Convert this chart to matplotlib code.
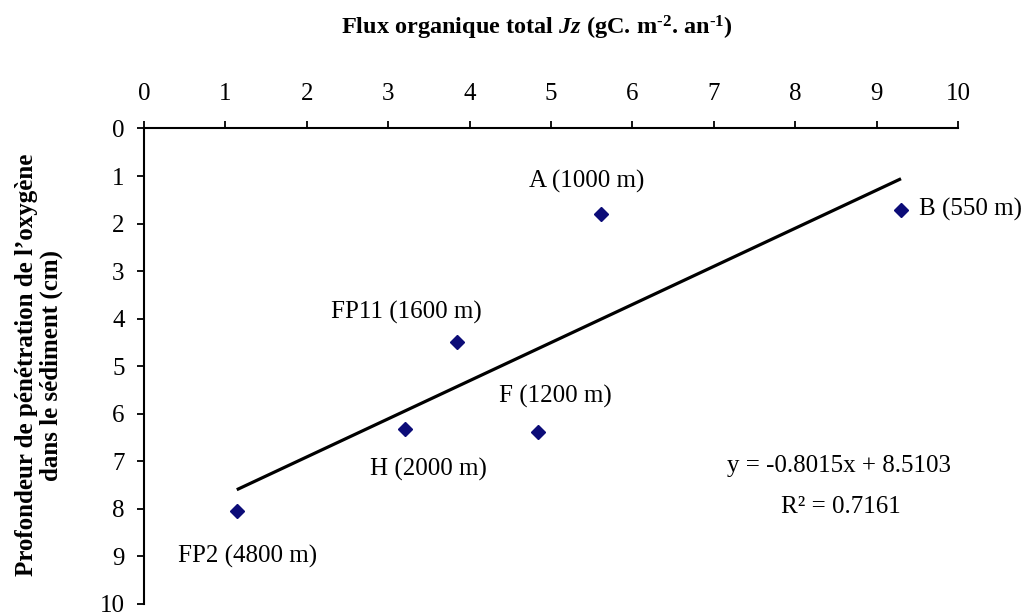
import numpy as np
import matplotlib
matplotlib.use("Agg")
import matplotlib.pyplot as plt

plt.rcParams['font.family'] = ['Liberation Serif', 'DejaVu Serif']
plt.rcParams['mathtext.fontset'] = 'custom'
plt.rcParams['mathtext.rm'] = 'Liberation Serif:bold'
plt.rcParams['mathtext.it'] = 'Liberation Serif:italic:bold'
plt.rcParams['mathtext.bf'] = 'Liberation Serif:bold'

# data
stations = ['A (1000 m)', 'B (550 m)', 'FP11 (1600 m)', 'H (2000 m)', 'F (1200 m)', 'FP2 (4800 m)']
flux = [5.62, 9.30, 3.84, 3.21, 4.84, 1.14]
depth = [1.80, 1.71, 4.49, 6.32, 6.39, 8.04]

# regression given on the chart
slope, intercept = -0.8015, 8.5103
r2 = 0.7161

# label placement (offset in data units, alignment)
label_pos = [(-0.18, -0.68, 'center'), (0.22, 0.0, 'left'), (-0.62, -0.63, 'center'),
             (0.29, 0.85, 'center'), (0.21, -0.75, 'center'), (0.13, 0.96, 'center')]

fig = plt.figure(figsize=(10.27, 6.16), dpi=100)
ax = fig.add_axes([0.1402, 0.0195, 0.7926, 0.7719])

xs = np.array([min(flux), max(flux)])
ax.plot(xs, slope * xs + intercept, color='black', lw=2.3, solid_capstyle='butt')
ax.plot(flux, depth, 'D', color='#0c0c78', markersize=7, zorder=3)

for name, x, y, (dx, dy, ha) in zip(stations, flux, depth, label_pos):
    ax.text(x + dx, y + dy, name, ha=ha, va='center', fontsize=18)

ax.text(8.54, 7.09, 'y = -0.8015x + 8.5103', ha='center', va='center', fontsize=18)
ax.text(8.56, 7.95, 'R\u00b2 = %.4f' % r2, ha='center', va='center', fontsize=18)

ax.set_xlim(0, 10)
ax.set_ylim(10, 0)
ax.set_xticks(range(0, 11))
ax.set_yticks(range(0, 11))
ax.xaxis.tick_top()
for s in ['right', 'bottom']:
    ax.spines[s].set_visible(False)
for s in ['left', 'top']:
    ax.spines[s].set_linewidth(1.5)
ax.tick_params(axis='both', direction='out', length=5, width=1.3, labelsize=18)
ax.tick_params(axis='x', pad=12)
ax.tick_params(axis='y', pad=9)

fig.text(0.523, 0.955, r'Flux organique total $Jz$ (gC. m$^{\text{-2}}$. an$^{\text{-1}}$)',
         ha='center', va='center', fontsize=17.5, fontweight='bold')
fig.text(0.038, 0.407, "Profondeur de pénétration de l\u2019oxygène\ndans le sédiment (cm)",
         ha='center', va='center', rotation=90, fontsize=18, fontweight='bold',
         linespacing=1.05)

fig.savefig('out.png', dpi=100)
